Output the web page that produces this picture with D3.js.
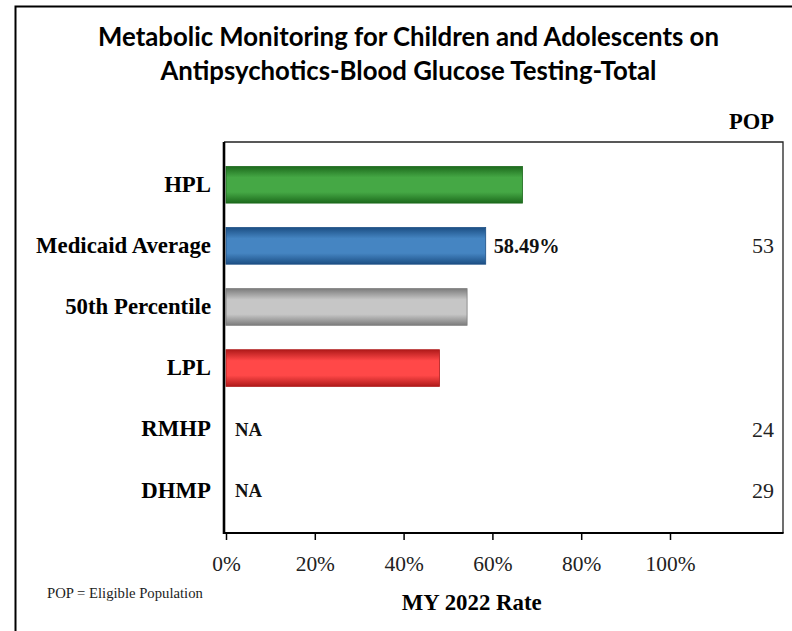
<!DOCTYPE html>
<html><head><meta charset="utf-8">
<script src="https://cdn.jsdelivr.net/npm/d3@7"></script>
<style>body{margin:0;background:#fff}svg{display:block}</style>
</head><body>
<svg id="c" width="792" height="631"></svg>
<script>
const titleLines = ["Metabolic Monitoring for Children and Adolescents on", "Antipsychotics-Blood Glucose Testing-Total"];
const categories = ["HPL", "Medicaid Average", "50th Percentile", "LPL", "RMHP", "DHMP"];
const rates = [0.668, 0.5849, 0.543, 0.481, null, null];
const valueLabels = ["", "58.49%", "", "", "NA", "NA"];
const popValues = ["", "53", "", "", "24", "29"];
const tickValues = [0, 0.2, 0.4, 0.6, 0.8, 1.0];
const barColors = [
  {mid:"#45a845", edge:"#1d6a1d"},
  {mid:"#4585c2", edge:"#1c4f84"},
  {mid:"#c6c6c6", edge:"#7c7c7c"},
  {mid:"#ff4848", edge:"#b01a1a"},
  null, null
];

const svg = d3.select("#c");
const serif = "'Liberation Serif','Times New Roman',Times,serif";

// scale a text's font-size so that its rendered width matches a target width
function fitSize(text, weight, family, target){
  const t = svg.append("text").attr("font-family",family).attr("font-weight",weight).attr("font-size",20).text(text);
  const w = t.node().getComputedTextLength();
  t.remove();
  return 20*target/w;
}

// outer border
svg.append("path").attr("d","M15.5,700 V6.5 H800").attr("fill","none").attr("stroke","#000").attr("stroke-width",2);

// title
const titleFamily = "Lato, 'Open Sans', sans-serif";
const tfs = fitSize(titleLines[0],700,titleFamily,621);
titleLines.forEach((t,i)=>{
  svg.append("text").attr("x",408.5).attr("y",[45.5,80][i]).attr("text-anchor","middle")
    .attr("font-family",titleFamily).attr("font-weight",700).attr("font-size",tfs).attr("fill","#000").text(t);
});

const labelFs = fitSize("Medicaid Average",700,serif,175);
const tickFs = fitSize("100%",400,serif,50);
const valFs = fitSize("58.49%",700,serif,66);
const naFs = fitSize("NA",700,serif,27);
const popHFs = fitSize("POP",700,serif,45);
const popFs = fitSize("53",400,serif,22);
const axTitleFs = fitSize("MY 2022 Rate",700,serif,140);
const noteFs = fitSize("POP = Eligible Population",400,serif,156);

const plot = {left:224, top:142, right:783, bottom:533};
const x = d3.scaleLinear().domain([0,1]).range([226,670]);
const y = d3.scaleBand().domain(categories).range([plot.top, plot.bottom]).paddingInner(0.4).paddingOuter(0.4);

// gradients
const defs = svg.append("defs");
barColors.forEach((c,i)=>{
  if(!c) return;
  const g = defs.append("linearGradient").attr("id","g"+i).attr("x1",0).attr("y1",0).attr("x2",0).attr("y2",1);
  g.append("stop").attr("offset","0%").attr("stop-color",c.edge);
  g.append("stop").attr("offset","30%").attr("stop-color",c.mid);
  g.append("stop").attr("offset","70%").attr("stop-color",c.mid);
  g.append("stop").attr("offset","100%").attr("stop-color",c.edge);
});

// plot frame (top/right thin)
svg.append("path").attr("d",`M${plot.left},${plot.top} H${plot.right} V${plot.bottom}`).attr("fill","none").attr("stroke","#222").attr("stroke-width",1.3);

// bars
svg.append("g").selectAll("rect").data(categories.map((c,i)=>({c,i,v:rates[i]})).filter(d=>d.v!=null))
  .join("rect")
  .attr("x",x(0)).attr("y",d=>y(d.c)).attr("width",d=>x(d.v)-x(0)).attr("height",y.bandwidth())
  .attr("fill",d=>`url(#g${d.i})`).attr("stroke",d=>barColors[d.i].edge).attr("stroke-width",0.8);

// value labels
svg.append("g").selectAll("text").data(categories.map((c,i)=>({c,i,v:rates[i],l:valueLabels[i]})).filter(d=>d.l))
  .join("text")
  .attr("x",d=>d.v!=null ? x(d.v)+8 : x(0)+9)
  .attr("y",d=>y(d.c)+y.bandwidth()/2+7)
  .attr("font-family",serif).attr("font-weight",700).attr("font-size",d=>d.v!=null?valFs:naFs).attr("fill","#111")
  .text(d=>d.l);

// y axis labels
svg.append("g").selectAll("text").data(categories).join("text")
  .attr("x",211).attr("y",d=>y(d)+y.bandwidth()/2+7.3).attr("text-anchor","end")
  .attr("font-family",serif).attr("font-weight",700).attr("font-size",labelFs).attr("fill","#000").text(d=>d);

// POP column
svg.append("text").attr("x",774).attr("y",128.5).attr("text-anchor","end").attr("font-family",serif)
  .attr("font-weight",700).attr("font-size",popHFs).text("POP");
svg.append("g").selectAll("text").data(categories.map((c,i)=>({c,p:popValues[i]})).filter(d=>d.p)).join("text")
  .attr("x",774).attr("y",d=>y(d.c)+y.bandwidth()/2+7.5).attr("text-anchor","end")
  .attr("font-family",serif).attr("font-size",popFs).attr("fill","#222").text(d=>d.p);

// x axis
const xa = svg.append("g").attr("transform",`translate(0,${plot.bottom})`)
  .call(d3.axisBottom(x).tickValues(tickValues).tickFormat(d3.format(".0%")).tickSize(7).tickSizeOuter(0));
xa.select(".domain").remove();
xa.selectAll(".tick line").attr("stroke","#000").attr("stroke-width",1.5);
xa.selectAll(".tick text").attr("font-family",serif).attr("font-size",tickFs).attr("fill","#222")
  .attr("y",38).attr("dy",null);
svg.append("line").attr("x1",plot.left-1).attr("x2",plot.right+0.6).attr("y1",plot.bottom).attr("y2",plot.bottom).attr("stroke","#000").attr("stroke-width",2.2);
// y axis line
svg.append("line").attr("x1",plot.left).attr("x2",plot.left).attr("y1",plot.top).attr("y2",plot.bottom+1).attr("stroke","#000").attr("stroke-width",2.6);

// axis title
svg.append("text").attr("x",471.7).attr("y",610).attr("text-anchor","middle").attr("font-family",serif)
  .attr("font-weight",700).attr("font-size",axTitleFs).text("MY 2022 Rate");

// footnote
svg.append("text").attr("x",47).attr("y",598).attr("font-family",serif).attr("font-size",noteFs).attr("fill","#222").text("POP = Eligible Population");
</script>
</body></html>
